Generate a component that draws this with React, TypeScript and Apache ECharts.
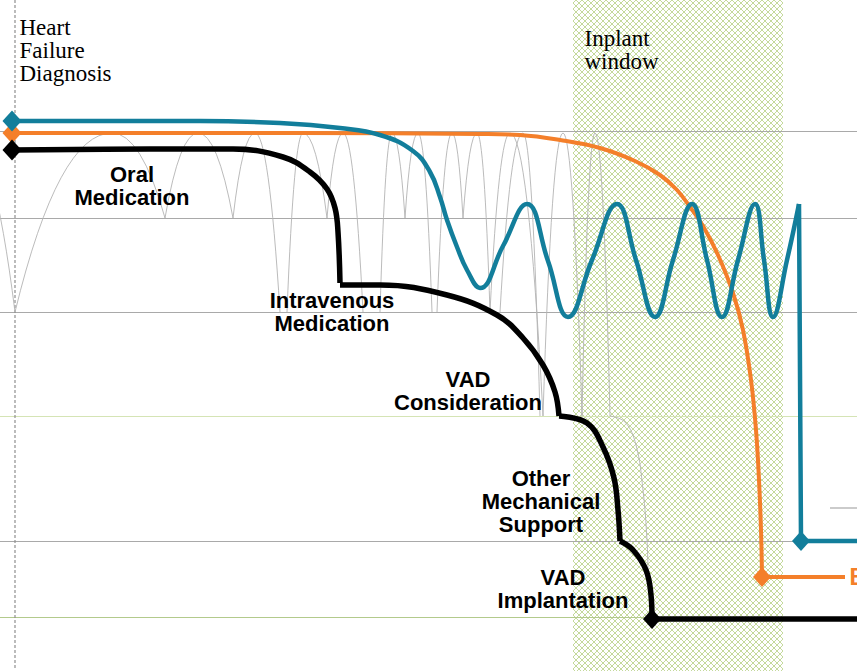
import React, { useEffect, useRef } from "react";
import * as echarts from "echarts";

// ---------- data (illustration units: x = time, y = decline, top = healthy) ----------
const levels = [131, 218, 312, 416, 541, 617];
const shortLevel = [[830, 508], [857, 508]];
const diagnosisLine = [[15, 0], [15, 668]];
const implantWindow = [573, 783];

const tealCurve = [
  [12, 121], [200, 121], [280, 123], [340, 128], [380, 135], [413, 151], [430, 172],
  [440, 197], [447, 220], [457, 247], [467, 270], [480, 288],
  [503, 246], [527, 204], [548, 261], [568, 317], [592, 260], [617, 204],
  [636, 260], [655, 317], [673, 260], [692, 204], [707, 260], [722, 317],
  [738, 260], [755, 204], [764, 260], [773, 317], [787, 260], [799, 204],
];
const tealDrop = [[799, 204], [801, 541], [857, 541]];

const orangeCurve = [
  [12, 133], [300, 133], [480, 134], [520, 135], [560, 140], [600, 148], [635, 161],
  [660, 175], [677, 190], [690, 207], [703, 226], [718, 255], [733, 293], [743, 330],
  [751, 380], [756, 430], [759, 480], [761, 530], [762, 577],
];
const orangeTail = [[762, 577], [845, 577]];

const blackOral = [
  [12, 150], [150, 149], [233, 149], [283, 157], [310, 172], [327, 189], [335, 208], [338, 232], [340, 283],
];
const blackIV = [
  [340, 285], [380, 285], [447, 295], [497, 315], [523, 338], [543, 365], [555, 392], [559, 416],
];
const blackVAD = [[559, 416], [587, 423], [603, 447], [614, 478], [618, 510], [620, 541]];
const blackOther = [[620, 541], [633, 550], [646, 570], [651, 595], [652, 619]];
const blackTail = [[652, 619], [857, 619]];

// gray "bounce" arcs: [startX, startY, apexX, apexY, endX, endY]
const arcs = [
  [-85, 312, -35, 133, 15, 312],
  [15, 312, 112, 133, 165, 218],
  [165, 218, 198, 133, 233, 218],
  [233, 218, 255, 133, 280, 312],
  [287, 312, 303, 133, 327, 218],
  [327, 218, 343, 133, 363, 312],
  [380, 312, 392, 133, 405, 218],
  [405, 218, 418, 133, 432, 312],
  [437, 312, 452, 133, 463, 218],
  [463, 218, 477, 133, 490, 312],
  [490, 312, 510, 133, 543, 416],
  [500, 312, 523, 133, 540, 416],
  [543, 416, 563, 133, 582, 416],
  [582, 416, 595, 133, 610, 416],
];
const arcTail = [[610, 416], [625, 422], [636, 445], [643, 490], [647, 540], [648, 570]];

const startMarks = [[12, 133], [12, 121], [12, 150]];
const endMarks = [[762, 577], [801, 541], [652, 619]];

const stageLabels = [
  "Oral\nMedication",
  "Intravenous\nMedication",
  "VAD\nConsideration",
  "Other\nMechanical\nSupport",
  "VAD\nImplantation",
];
const stagePos = [[132, 186], [332, 312], [468, 391], [541, 501], [563, 589]];

const noteLabels = ["Heart\nFailure\nDiagnosis", "Inplant\nwindow"];
const notePos = [[20, 16], [585, 27]];

const outcomeLabel = "Bridge to Transplant";
const outcomePos = [850, 577];

// ---------- styles ----------
const TEAL = "#127e9b";
const ORANGE = "#f47f2a";
const BLACK = "#000000";
const GRAY = "#a9a9a9";
const levelColors = [GRAY, GRAY, GRAY, "#d5e4b5", GRAY, "#b3ca8c"];

export default function App() {
  const ref = useRef<HTMLDivElement>(null);

  useEffect(() => {
    if (!ref.current) return;
    const chart = echarts.init(ref.current, null, { renderer: "svg" });

    const cv = document.createElement("canvas");
    cv.width = 6;
    cv.height = 6;
    const ctx = cv.getContext("2d");
    if (ctx) {
      ctx.fillStyle = "#ffffff";
      ctx.fillRect(0, 0, 6, 6);
      ctx.strokeStyle = "#bdd590";
      ctx.lineWidth = 0.9;
      ctx.beginPath();
      ctx.moveTo(0, 0); ctx.lineTo(6, 6);
      ctx.moveTo(6, 0); ctx.lineTo(0, 6);
      ctx.stroke();
    }
    const hatch: any = { image: cv, repeat: "repeat", imageWidth: 6, imageHeight: 6 };

    const thick = (data: number[][], color: string, width: number, smooth: boolean | number, z: number) => ({
      type: "line",
      data,
      symbol: "none",
      smooth,
      lineStyle: { color, width, cap: "butt", join: "miter", opacity: 1 },
      silent: true,
      z,
    });

    const textSeries = (data: any[], label: any) => ({
      type: "scatter",
      symbolSize: 1,
      itemStyle: { color: "rgba(0,0,0,0)", opacity: 1 },
      silent: true,
      z: 9,
      data,
      label: { show: true, formatter: "{b}", opacity: 1, ...label },
    });

    const option: any = {
      animation: false,
      grid: { left: 0, right: 0, top: 0, bottom: 0 },
      xAxis: { type: "value", min: 0, max: 857, show: false },
      yAxis: { type: "value", min: 0, max: 671, inverse: true, show: false },
      series: [
        {
          type: "line",
          data: diagnosisLine,
          symbol: "none",
          lineStyle: { color: "#8f8f8f", width: 1.2, type: [3, 2] },
          silent: true,
          z: 2,
          markArea: {
            silent: true,
            z: 1,
            itemStyle: { color: hatch, opacity: 1 },
            data: [[{ xAxis: implantWindow[0] }, { xAxis: implantWindow[1] }]],
          },
          markLine: {
            silent: true,
            z: 2,
            symbol: "none",
            label: { show: false },
            data: levels.map((y, i) => ({
              yAxis: y,
              lineStyle: { color: levelColors[i], width: 1.2, type: "solid" },
            })),
          },
        },
        {
          type: "line",
          data: shortLevel,
          symbol: "none",
          lineStyle: { color: GRAY, width: 1.2 },
          silent: true,
          z: 2,
        },
        {
          type: "custom",
          data: arcs,
          dimensions: ["x0", "y0", "xa", "ya", "x1", "y1"],
          encode: { x: [0, 2, 4], y: [1, 3, 5] },
          silent: true,
          z: 3,
          renderItem: (_p: any, api: any) => {
            const p0 = api.coord([api.value(0), api.value(1)]);
            const pa = api.coord([api.value(2), api.value(3)]);
            const p1 = api.coord([api.value(4), api.value(5)]);
            const style = { stroke: "#b3b3b3", lineWidth: 0.9, fill: "none" };
            return {
              type: "group",
              children: [
                {
                  type: "bezierCurve",
                  shape: { x1: p0[0], y1: p0[1], x2: pa[0], y2: pa[1], cpx1: p0[0] + (pa[0] - p0[0]) * 0.45, cpy1: pa[1] },
                  style,
                },
                {
                  type: "bezierCurve",
                  shape: { x1: pa[0], y1: pa[1], x2: p1[0], y2: p1[1], cpx1: pa[0] + (p1[0] - pa[0]) * 0.55, cpy1: pa[1] },
                  style,
                },
              ],
            };
          },
        },
        {
          type: "line",
          data: arcTail,
          symbol: "none",
          smooth: 0.4,
          lineStyle: { color: "#b3b3b3", width: 0.9 },
          silent: true,
          z: 3,
        },
        thick(orangeCurve, ORANGE, 4, 0.4, 5),
        thick(orangeTail, ORANGE, 4, false, 5),
        thick(tealCurve, TEAL, 4.5, 0.45, 6),
        thick(tealDrop, TEAL, 4.5, false, 6),
        thick(blackOral, BLACK, 5.5, 0.4, 7),
        thick(blackIV, BLACK, 5.5, 0.4, 7),
        thick(blackVAD, BLACK, 5.5, 0.4, 7),
        thick(blackOther, BLACK, 5.5, 0.4, 7),
        thick(blackTail, BLACK, 5.5, false, 7),
        {
          type: "scatter",
          symbol: "diamond",
          symbolSize: [19, 21],
          silent: true,
          z: 8,
          data: startMarks.map((v, i) => ({ value: v, itemStyle: { color: [ORANGE, TEAL, BLACK][i], opacity: 1 } })),
        },
        {
          type: "scatter",
          symbol: "diamond",
          symbolSize: [18, 20],
          silent: true,
          z: 8,
          data: endMarks.map((v, i) => ({ value: v, itemStyle: { color: [ORANGE, TEAL, BLACK][i], opacity: 1 } })),
        },
        textSeries(
          stageLabels.map((t, i) => ({ value: stagePos[i], name: t })),
          {
            position: "inside",
            fontFamily: "Liberation Sans",
            fontWeight: "bold",
            fontSize: 22,
            lineHeight: 23,
            color: "#000000",
            align: "center",
            verticalAlign: "middle",
          }
        ),
        textSeries(
          noteLabels.map((t, i) => ({ value: notePos[i], name: t })),
          {
            position: [0, 0],
            fontFamily: "Liberation Serif",
            fontSize: 23,
            lineHeight: 23,
            color: "#000000",
            align: "left",
            verticalAlign: "top",
          }
        ),
        textSeries([{ value: outcomePos, name: outcomeLabel }], {
          position: [0, 0],
          fontFamily: "Liberation Sans",
          fontWeight: "bold",
          fontSize: 23,
          color: ORANGE,
          align: "left",
          verticalAlign: "middle",
        }),
      ],
    };

    chart.setOption(option);
    return () => chart.dispose();
  }, []);

  return (
    <div
      ref={ref}
      style={{ position: "absolute", left: 0, top: 0, width: 857, height: 671, background: "#ffffff", overflow: "hidden" }}
    />
  );
}
